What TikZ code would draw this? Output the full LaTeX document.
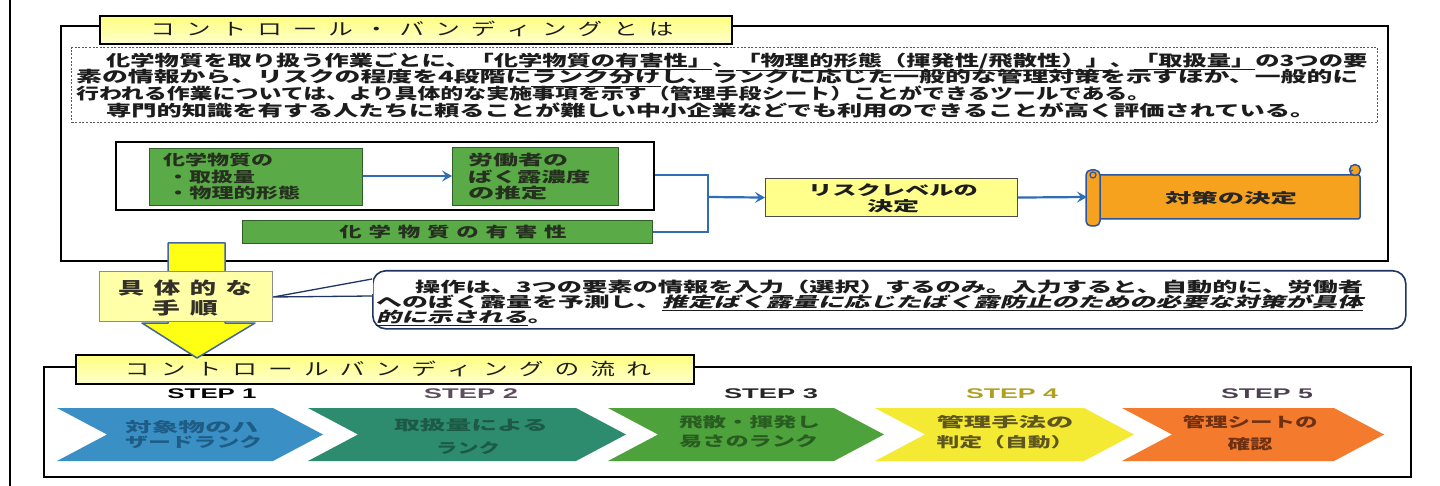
\documentclass[tikz,border=0pt]{standalone}
\usepackage{fontspec}
\usepackage{graphicx}
\usetikzlibrary{arrows.meta}
\newfontfamily\jp{Noto Sans CJK JP}
\newfontfamily\jpsl{Noto Sans CJK JP}[FakeSlant=0.18]
\newfontfamily\arl{Liberation Sans}
\makeatletter
\newcommand\spaced[2]{\begingroup\def\sp@g{\hskip#1\relax}\let\sp@first\relax\@tfor\sp@t:=#2\do{\sp@first\sp@t\let\sp@first\sp@g}\endgroup}
\makeatother
\newcommand\fitw[2]{\resizebox{#1}{\height}{#2}}
\newcommand\rnode[6]{\node[#6,anchor=north west,inner sep=0pt,minimum width={#4-#2},minimum height={#5-#3}] (#1) at (#2,#3) {};}
\definecolor{bodyc}{HTML}{1C1C1C}
\definecolor{tabyA}{HTML}{FFFF80}
\definecolor{tabyB}{HTML}{FFFFCC}
\definecolor{grn}{HTML}{5AAA48}
\definecolor{grnd}{HTML}{2F5E2A}
\definecolor{grntx}{HTML}{26301F}
\definecolor{flowblue}{HTML}{2F6DB5}
\definecolor{lyel}{HTML}{FFFF8C}
\definecolor{scrollor}{HTML}{F7A21E}
\definecolor{scrollbd}{HTML}{2A55A0}
\definecolor{arrowyel}{HTML}{FFFF14}
\definecolor{arrowbd}{HTML}{44649A}
\definecolor{gkfill}{HTML}{FFFFA8}
\definecolor{callbd}{HTML}{1F3566}
\definecolor{chA}{HTML}{3A90C4}
\definecolor{chB}{HTML}{2E8C6E}
\definecolor{chC}{HTML}{4DA23C}
\definecolor{chD}{HTML}{F4E933}
\definecolor{chE}{HTML}{F47B2E}
\definecolor{chAt}{HTML}{1E5C84}
\definecolor{chBt}{HTML}{1C5A45}
\definecolor{chCt}{HTML}{285C20}
\definecolor{chDt}{HTML}{5E5620}
\definecolor{chEt}{HTML}{6E3012}
\definecolor{stB}{HTML}{5E4D5E}
\definecolor{stD}{HTML}{B0A020}
\definecolor{stE}{HTML}{4A4050}
\begin{document}
\begin{tikzpicture}[x=1pt,y=-1pt,
  frame/.style={draw=black,line width=2pt},
  tab/.style={draw=black,line width=2.2pt,top color=tabyA,bottom color=tabyB},
  ttl/.style={inner sep=0pt,text=bodyc,font=\jp\fontsize{17}{17}\selectfont},
  txt/.style={inner sep=0pt,text=bodyc,font=\jp\bfseries\fontsize{15.5}{17}\selectfont},
  gbox/.style={fill=grn,draw=grnd,line width=1pt},
  ftxt/.style={inner sep=0pt,text=grntx,font=\jp\bfseries\fontsize{14.5}{15}\selectfont},
  ytxt/.style={inner sep=0pt,text=bodyc,font=\jp\bfseries\fontsize{14}{14}\selectfont},
  bline/.style={draw=flowblue,line width=2.2pt},
  barrow/.style={bline,-{Stealth[length=10pt,width=11pt,inset=4pt]}},
  steplbl/.style={inner sep=0pt,font=\arl\bfseries\fontsize{14}{14}\selectfont},
  ctxt/.style={inner sep=0pt,font=\jp\bfseries\fontsize{14}{14}\selectfont}]
\useasboundingbox (0,0) rectangle (1440,486);
\fill[white] (0,0) rectangle (1440,486);
\draw[line width=2pt] (10,0) -- (10,486);

% ---------- upper section ----------
\rnode{upframe}{60}{25}{1387}{260}{frame}
\rnode{uptab}{99}{15}{731}{43}{tab}
\node[ttl] (uptitle) at (412,29) {\fitw{523pt}{\spaced{0.45em}{コントロール・バンディングとは}}};
\rnode{dotbox}{71}{47}{1377}{122}{draw=black!65,dash pattern=on 2pt off 1.6pt,line width=1.3pt}
\node[txt,anchor=west] (p1) at (106,62) {\fitw{1261pt}{化学物質を取り扱う作業ごとに、\underline{「化学物質の有害性」}、\underline{「物理的形態（揮発性/飛散性）」}、\underline{「取扱量」}の3つの要}};
\node[txt,anchor=west] (p2) at (76,78) {\fitw{1282pt}{素の情報から、リスクの程度を4段階に\underline{ランク分け}し、ランクに応じた一般的な管理対策を示すほか、一般的に}};
\node[txt,anchor=west] (p3) at (76,94) {\fitw{1074pt}{行われる作業については、より具体的な実施事項を示す（管理手段シート）ことができるツールである。}};
\node[txt,anchor=west] (p4) at (106,110) {\fitw{1209pt}{専門的知識を有する人たちに頼ることが難しい中小企業などでも利用のできることが高く評価されている。}};

% flow
\rnode{flowframe}{115}{141}{653}{209}{draw=black,line width=1.8pt}
\rnode{gb1}{149}{148}{362}{205}{gbox}
\rnode{gb2}{452}{147}{618}{205}{gbox}
\rnode{gbar}{242}{220}{652}{243}{gbox}
\node[ftxt,anchor=west] (g1a) at (163,160) {\fitw{110pt}{化学物質の}};
\node[ftxt,anchor=west] (g1b) at (167,177) {\fitw{88pt}{・取扱量}};
\node[ftxt,anchor=west] (g1c) at (167,193) {\fitw{133pt}{・物理的形態}};
\node[ftxt,anchor=west] (g2a) at (468,160) {\fitw{100pt}{労働者の}};
\node[ftxt,anchor=west] (g2b) at (468,177) {\fitw{122pt}{ばく露濃度}};
\node[ftxt,anchor=west] (g2c) at (468,193) {\fitw{79pt}{の推定}};
\node[ftxt] (gbt) at (453,232) {\fitw{227pt}{\spaced{0.3em}{化学物質の有害性}}};
\draw[barrow] (gb1.east |- 0,176) -- (gb2.west |- 0,176);
\coordinate (jn) at (708,175);
\coordinate (jb) at (708,232);
\coordinate (jm) at (708,197);
\draw[bline] (flowframe.east |- jn) -- (jn) -- (jb) -- (gbar.east |- jb);

\rnode{ybox}{765}{178}{1017}{216}{draw=black!70,fill=lyel,line width=1.1pt}
\node[ytxt] (yt1) at (893,190) {\fitw{170pt}{リスクレベルの}};
\node[ytxt] (yt2) at (893,206) {\fitw{52pt}{決定}};
\draw[barrow] (jm) -- (ybox.west);

% scroll
\filldraw[fill=scrollor,draw=scrollbd,line width=1.5pt,rounded corners=2pt] (1098,175) rectangle (1360,219);
\filldraw[fill=scrollor,draw=scrollbd,line width=1.5pt,rounded corners=5pt] (1086,170) rectangle (1100,226);
\filldraw[fill=scrollor,draw=scrollbd,line width=1.2pt] (1093,175) circle (3pt);
\filldraw[fill=scrollor,draw=scrollbd,line width=1.5pt] (1355,170) circle (5.5pt);
\draw[scrollbd,line width=1pt] (1353,175) arc (270:90:2.5pt);
\node[inner sep=0pt,minimum width=262pt,minimum height=44pt] (scroll) at (1229,197) {};
\node[ytxt,text=black!85] (sct) at (1231,198) {\fitw{132pt}{対策の決定}};
\draw[barrow] (ybox.east) -- (scroll.west -| 1087,0);

% ---------- lower section ----------
\rnode{loframe}{43}{366}{1410}{476}{frame}
\rnode{lotab}{75}{354}{693}{383}{tab}
\node[ttl] (lotitle) at (388,369) {\fitw{526pt}{\spaced{0.45em}{コントロールバンディングの流れ}}};

% big yellow arrow
\filldraw[fill=arrowyel,draw=arrowbd,line width=1.5pt,line join=round]
  (168,243) -- (225,243) -- (225,323) -- (255,323) -- (197,358) -- (142,323) -- (168,323) -- cycle;
\rnode{gkbox}{99}{271}{272}{321}{draw=black!45,fill=gkfill,line width=1.4pt}
\node[ttl,font=\jp\bfseries\fontsize{17}{17}\selectfont,text=black!85!olive] (gk1) at (185,288) {\fitw{134pt}{\spaced{0.35em}{具体的な}}};
\node[ttl,font=\jp\bfseries\fontsize{17}{17}\selectfont,text=black!85!olive] (gk2) at (185,308) {\fitw{66pt}{\spaced{0.35em}{手順}}};

% callout
\node[draw=callbd,fill=white,line width=1.6pt,rounded corners=13pt,anchor=north west,minimum width=1033pt,minimum height=58pt,inner sep=0pt] (callout) at (372,270) {};
\coordinate (pt1) at (372,279);
\coordinate (pt2) at (372,296);
\coordinate (ptip) at (gkbox.east |- 0,297);
\fill[white] (pt1) -- (ptip) -- (pt2) -- cycle;
\draw[white,line width=2.4pt] (372,280.5) -- (372,294.5);
\draw[callbd,line width=1.3pt,line join=round] (pt1) -- (ptip) -- (pt2);
\node[txt,font=\jp\bfseries\fontsize{14.5}{15}\selectfont,anchor=west] (c1) at (415,287) {\fitw{948pt}{操作は、3つの要素の情報を入力（選択）するのみ。入力すると、自動的に、労働者}};
\node[txt,font=\jp\bfseries\fontsize{14.5}{15}\selectfont,anchor=west] (c2) at (376,302.5) {\fitw{987pt}{へのばく露量を予測し、{\jpsl\bfseries\underline{推定ばく露量に応じたばく露防止のための必要な対策が具体}}}};
\node[txt,font=\jp\bfseries\fontsize{14.5}{15}\selectfont,anchor=west] (c3) at (376,318) {\fitw{177pt}{{\jpsl\bfseries\underline{的に示される}}。}};

% steps
\node[steplbl,text=black] (s1) at (212,394) {\fitw{89pt}{STEP 1}};
\node[steplbl,text=stB] (s2) at (471,394) {\fitw{94pt}{STEP 2}};
\node[steplbl,text=black!85] (s3) at (771,394) {\fitw{94pt}{STEP 3}};
\node[steplbl,text=stD] (s4) at (1012,394) {\fitw{92pt}{STEP 4}};
\node[steplbl,text=stE] (s5) at (1267,394) {\fitw{92pt}{STEP 5}};

\foreach \xa/\xb/\cc in {57/323/chA,308/626/chB,608/884/chC,875/1134/chD,1122/1384/chE}{
  \fill[\cc] (\xa,408) -- ({\xb-50},408) -- (\xb,434.5) -- ({\xb-50},461) -- (\xa,461) -- ({\xa+50},434.5) -- cycle;
}
\node[ctxt,text=chAt,anchor=west] (t1a) at (125,427) {\fitw{133pt}{対象物のハ}};
\node[ctxt,text=chAt,anchor=west] (t1b) at (125,442) {\fitw{137pt}{ザードランク}};
\node[ctxt,text=chBt] (t2a) at (471,425) {\fitw{154pt}{取扱量による}};
\node[ctxt,text=chBt] (t2b) at (468,448) {\fitw{64pt}{ランク}};
\node[ctxt,text=chCt,anchor=west] (t3a) at (679,422) {\fitw{141pt}{飛散・揮発し}};
\node[ctxt,text=chCt,anchor=west] (t3b) at (679,441) {\fitw{139pt}{易さのランク}};
\node[ctxt,text=chDt] (t4a) at (1005,422) {\fitw{137pt}{管理手法の}};
\node[ctxt,text=chDt] (t4b) at (1005,442) {\fitw{137pt}{判定（自動）}};
\node[ctxt,text=chEt] (t5a) at (1250,422) {\fitw{135pt}{管理シートの}};
\node[ctxt,text=chEt] (t5b) at (1250,444) {\fitw{45pt}{確認}};
\end{tikzpicture}
\end{document}
